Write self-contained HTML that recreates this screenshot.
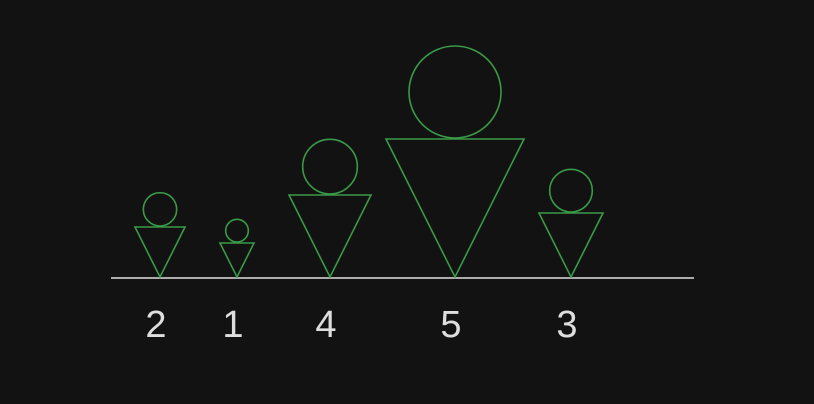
<!DOCTYPE html>
<html><head><meta charset="utf-8"><style>
html,body{margin:0;padding:0;background:#121212;}
svg{display:block;}
</style></head><body>
<svg id="chart" width="814" height="404" viewBox="0 0 814 404">
<rect width="814" height="404" fill="#121212"/>
<line x1="111" y1="278" x2="694" y2="278" stroke="#e0e0e0" stroke-width="1.5"/>
<g id="marks"></g>
</svg>
<script>
const categories = ["2", "1", "4", "5", "3"];
const values = [2, 1, 4, 5, 3];

const NS = "http://www.w3.org/2000/svg";
const baseY = 277;
const startX = 135;
const sizeDomain = [1, 2, 3, 4, 5];
const sizeRange = [34, 50, 64, 82, 138];
function sizeScale(v) {
  if (v <= sizeDomain[0]) return sizeRange[0] * v / sizeDomain[0];
  for (let i = 1; i < sizeDomain.length; i++) {
    if (v <= sizeDomain[i]) {
      const t = (v - sizeDomain[i-1]) / (sizeDomain[i] - sizeDomain[i-1]);
      return sizeRange[i-1] + t * (sizeRange[i] - sizeRange[i-1]);
    }
  }
  const n = sizeDomain.length - 1;
  return sizeRange[n] + (v - sizeDomain[n]) * (sizeRange[n] - sizeRange[n-1]);
}
const sizes = values.map(sizeScale);
const g = document.getElementById("marks");
let x = startX;
values.forEach((v, i) => {
  const s = sizes[i];
  const cx = x + s / 2;
  const top = baseY - s;
  const r = s / 3;
  const grp = document.createElementNS(NS, "g");
  
  
  const tri = document.createElementNS(NS, "polygon");
  tri.setAttribute("points", `${x},${top} ${x+s},${top} ${cx},${baseY}`);
  tri.setAttribute("fill", "none");
  tri.setAttribute("stroke", "#3a9a48");
  tri.setAttribute("stroke-width", "1.6");
  
  
  const c = document.createElementNS(NS, "circle");
  c.setAttribute("cx", cx);
  c.setAttribute("cy", top - r - 1);
  c.setAttribute("r", r);
  c.setAttribute("fill", "none");
  c.setAttribute("stroke", "#3a9a48");
  c.setAttribute("stroke-width", "1.6");
  
  
  const t = document.createElementNS(NS, "text");
  t.setAttribute("x", cx - 4);
  t.setAttribute("y", 337);
  t.setAttribute("text-anchor", "middle");
  t.setAttribute("fill", "#dedede");
  t.setAttribute("font-family", "Liberation Sans, sans-serif");
  t.setAttribute("font-size", "38");
  t.textContent = categories[i];
  
  
  grp.appendChild(tri); grp.appendChild(c); grp.appendChild(t);
  g.appendChild(grp);
  const next = i + 1 < sizes.length ? sizes[i + 1] : 0;
  const m = Math.max(s, next);
  x += s + Math.max(15, Math.min(35, 35 - (m - 82) * 0.4));
});
</script>
</body></html>
